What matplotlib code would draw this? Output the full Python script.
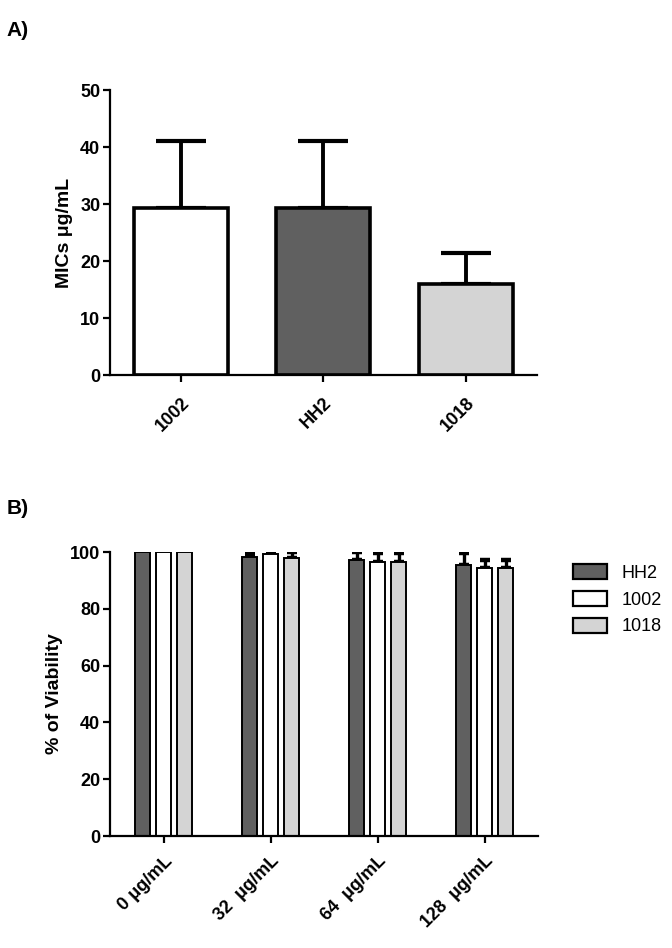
import numpy as np
import matplotlib.pyplot as plt
from matplotlib.patches import Patch

plt.rcParams['font.family'] = ['Liberation Sans', 'DejaVu Sans']

# panel A data
strains = ['1002', 'HH2', '1018']
mic_mean = [29.3, 29.3, 16.0]
mic_err = [11.8, 11.8, 5.4]
strain_colors = ['white', '#606060', '#d4d4d4']

# panel B data
conc_labels = ['0 \u03bcg/mL', '32  \u03bcg/mL', '64  \u03bcg/mL', '128  \u03bcg/mL']
series = ['HH2', '1002', '1018']
viab = {
    'HH2': [100.0, 98.2, 97.2, 95.4],
    '1002': [100.0, 99.3, 96.5, 94.4],
    '1018': [100.0, 97.9, 96.5, 94.4],
}
viab_err = {
    'HH2': [0.2, 1.4, 2.8, 4.2],
    '1002': [0.3, 1.0, 3.1, 2.8],
    '1018': [0.3, 2.1, 3.1, 2.8],
}
series_colors = {'HH2': '#606060', '1002': 'white', '1018': '#d4d4d4'}

fig = plt.figure(figsize=(6.72, 9.48), dpi=100)

#%% panel A
ax1 = fig.add_axes([0.1637, 0.6044, 0.635, 0.3006])
x = np.arange(len(strains))
ax1.bar(x, mic_mean, width=0.66, color=strain_colors, edgecolor='black',
        linewidth=2.6, zorder=2)
ax1.errorbar(x, mic_mean, yerr=[np.zeros(3), mic_err], fmt='none',
             ecolor='black', elinewidth=2.8, capsize=18, capthick=3, zorder=1)
ax1.set_xlim(-0.5, 2.5)
ax1.set_ylim(0, 50)
ax1.set_yticks(range(0, 51, 10))
ax1.set_xticks(x)
ax1.set_xticklabels(strains, rotation=45, ha='right', rotation_mode='anchor',
                    fontsize=13, fontweight='bold')
ax1.set_ylabel('MICs \u03bcg/mL', fontsize=14, fontweight='bold', labelpad=5)
for lab in ax1.get_yticklabels():
    lab.set_fontsize(13)
    lab.set_fontweight('bold')
ax1.spines['top'].set_visible(False)
ax1.spines['right'].set_visible(False)
ax1.spines['left'].set_linewidth(1.6)
ax1.spines['bottom'].set_linewidth(1.6)
ax1.tick_params(direction='out', length=5, width=1.6, pad=2)
ax1.tick_params(axis='x', pad=9)
fig.text(0.01, 0.962, 'A)', fontsize=15, fontweight='bold')

#%% panel B
ax2 = fig.add_axes([0.1637, 0.1181, 0.637, 0.2996])
xg = np.arange(len(conc_labels))
w = 0.14
step = 0.196
for i, s in enumerate(series):
    pos = xg + (i - 1) * step
    ax2.errorbar(pos, viab[s], yerr=[np.zeros(4), viab_err[s]], fmt='none',
                 ecolor='black', elinewidth=2.4, capsize=3.8, capthick=3.2,
                 zorder=1)
    ax2.bar(pos, viab[s], width=w, color=series_colors[s], edgecolor='black',
            linewidth=1.4, zorder=2, label=s)
ax2.set_xlim(-0.5, 3.5)
ax2.set_ylim(0, 100)
ax2.set_yticks(range(0, 101, 20))
ax2.set_xticks(xg)
ax2.set_xticklabels(conc_labels, rotation=45, ha='right', rotation_mode='anchor',
                    fontsize=13, fontweight='bold')
ax2.set_ylabel('% of Viability', fontsize=14, fontweight='bold', labelpad=5)
for lab in ax2.get_yticklabels():
    lab.set_fontsize(13)
    lab.set_fontweight('bold')
ax2.spines['top'].set_visible(False)
ax2.spines['right'].set_visible(False)
ax2.spines['left'].set_linewidth(1.6)
ax2.spines['bottom'].set_linewidth(1.6)
ax2.tick_params(direction='out', length=5, width=1.6, pad=2)
ax2.tick_params(axis='x', pad=7)

handles = [Patch(facecolor=series_colors[s], edgecolor='black', linewidth=1.6,
                 label=s) for s in series]
fig.legend(handles=handles, loc='upper left', bbox_to_anchor=(0.828, 0.422),
           frameon=False, fontsize=13, handlelength=1.9, handleheight=0.9,
           labelspacing=0.5, handletextpad=0.8)
fig.text(0.01, 0.458, 'B)', fontsize=15, fontweight='bold')

fig.savefig('out.png', dpi=100, facecolor='white')
